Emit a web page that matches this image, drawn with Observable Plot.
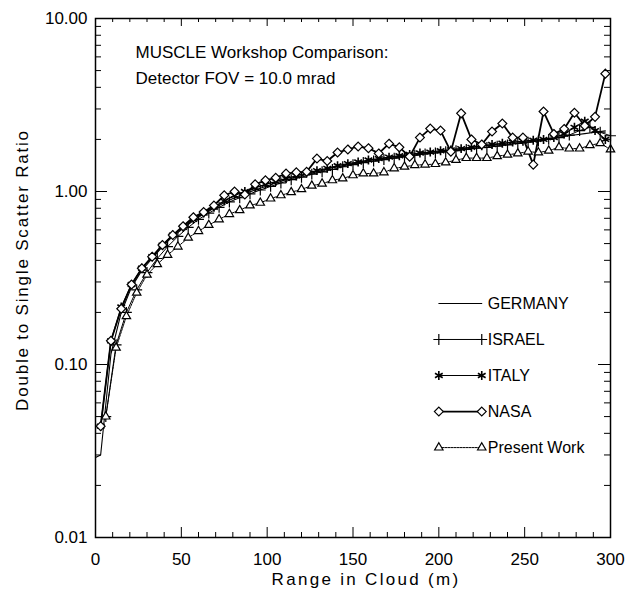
<!DOCTYPE html>
<html><head><meta charset="utf-8">
<script src="https://cdn.jsdelivr.net/npm/d3@7"></script>
<script src="https://cdn.jsdelivr.net/npm/@observablehq/plot@0.6"></script>
<style>
body{margin:0;background:#fff}
svg{display:block}
</style>
</head><body><div id="chart"></div>
<script>
// sample ranges (m)
const gridOdd = [3,9,15,21,27,33,39,45,51,57,63,69,75,81,87,93,99,105,111,117,123,129,135,141,147,153,159,165,171,177,183,189,195,201,207,213,219,225,231,237,243,249,255,261,267,273,279,285,291,297];
const gridEven = [6,12,18,24,30,36,42,48,54,60,66,72,78,84,90,96,102,108,114,120,126,132,138,144,150,156,162,168,174,180,186,192,198,204,210,216,222,228,234,240,246,252,258,264,270,276,282,288,294,300];
const germanyX = [0, ...gridOdd];

const germanyY = [0.029,0.030,0.115,0.20,0.28,0.35,0.41,0.48,0.55,0.61,0.68,0.74,0.80,0.86,0.92,0.97,1.02,1.07,1.12,1.17,1.21,1.26,1.30,1.35,1.39,1.43,1.47,1.51,1.54,1.57,1.60,1.63,1.66,1.69,1.72,1.74,1.77,1.80,1.83,1.86,1.89,1.92,1.95,1.98,2.01,2.04,2.08,2.12,2.16,2.20,2.24];
const israelY = [0.05,0.13,0.20,0.27,0.34,0.41,0.48,0.55,0.62,0.69,0.75,0.81,0.87,0.92,0.97,1.02,1.07,1.12,1.17,1.21,1.26,1.30,1.34,1.39,1.43,1.47,1.50,1.53,1.56,1.59,1.62,1.65,1.67,1.70,1.72,1.75,1.78,1.80,1.83,1.86,1.90,1.93,1.96,2.00,2.05,2.12,2.25,2.35,2.20,2.10];
const italyY = [0.044,0.137,0.215,0.29,0.36,0.42,0.49,0.56,0.62,0.69,0.75,0.81,0.88,0.95,1.00,1.05,1.10,1.14,1.19,1.23,1.28,1.32,1.36,1.41,1.45,1.48,1.52,1.55,1.58,1.61,1.64,1.67,1.69,1.72,1.74,1.77,1.80,1.84,1.87,1.90,1.93,1.95,1.98,2.00,2.05,2.15,2.35,2.55,2.25,2.00];
const nasaY = [0.044,0.137,0.21,0.29,0.36,0.42,0.49,0.56,0.63,0.71,0.76,0.83,0.95,1.00,0.96,1.10,1.16,1.20,1.27,1.29,1.30,1.55,1.50,1.68,1.75,1.82,1.78,1.66,1.89,1.80,1.59,2.05,2.31,2.25,1.70,2.83,2.00,1.87,2.22,2.47,2.05,2.05,1.43,2.90,2.15,2.30,2.85,2.40,2.70,4.80];
const presentY = [0.05,0.125,0.19,0.26,0.33,0.38,0.43,0.48,0.54,0.59,0.64,0.69,0.74,0.78,0.83,0.86,0.91,0.95,0.99,1.03,1.08,1.11,1.16,1.19,1.24,1.27,1.27,1.29,1.36,1.39,1.42,1.43,1.44,1.47,1.52,1.56,1.56,1.56,1.60,1.63,1.66,1.70,1.68,1.72,1.80,1.77,1.77,1.85,1.90,1.75];

const seriesNames = ["GERMANY","ISRAEL","ITALY","NASA","Present Work"];
const xTickLabels = [0,50,100,150,200,250,300];
const yTickLabels = [0.01,0.1,1,10];
const titleLines = ["MUSCLE Workshop Comparison:", "Detector FOV = 10.0 mrad"];
const xTitle = "Range in Cloud (m)";
const yTitle = "Double to Single Scatter Ratio";

const W = 629, H = 594, mL = 95, mR = 19, mT = 18, mB = 57;
const fw = W - mL - mR, fh = H - mT - mB;
const font = "Liberation Sans, Arial, sans-serif";

const xMinor = d3.range(0, 301, 10).filter(v => v % 50 !== 0);
const yMinor = [];
for (const dec of [0.01, 0.1, 1]) for (let k = 2; k <= 9; k++) yMinor.push(+(k*dec).toPrecision(3));

const pts = (xs, ys) => xs.map((x, i) => ({x, y: ys[i]}));
const germany = pts(germanyX, germanyY);
const israel = pts(gridEven, israelY);
const italy = pts(gridOdd, italyY);
const nasa = pts(gridOdd, nasaY);
const present = pts(gridEven, presentY);

const styles = [
  {data: germany, sw: 1.1, symbol: null, dash: null},
  {data: israel, sw: 1, symbol: "plus", dash: null},
  {data: italy, sw: 1.2, symbol: "asterisk", dash: null},
  {data: nasa, sw: 1.8, symbol: "diamond2", dash: null},
  {data: present, sw: 1, symbol: "triangle2", dash: "2,1"}
];

// legend rows laid out in data space (x from 200 to 225, log-spaced rows)
const legend = seriesNames.map((name, i) => ({name, i, y: 0.2254 * Math.pow(0.619, i)}));
const legendPts = legend.flatMap(d => [{...d, x: 200}, {...d, x: 225}]);

const marks = [];
styles.forEach((s, i) => {
  marks.push(Plot.line(s.data, {x: "x", y: "y", stroke: "black", strokeWidth: s.sw, strokeDasharray: s.dash}));
  const lp = legendPts.filter(d => d.i === i);
  marks.push(Plot.line(lp, {x: "x", y: "y", stroke: "black", strokeWidth: s.sw, strokeDasharray: s.dash}));
});
styles.forEach((s, i) => {
  if (!s.symbol) return;
  const lp = legendPts.filter(d => d.i === i);
  const opts = {x: "x", y: "y", symbol: () => s.symbol, r: s.symbol === "asterisk" ? 4.2 : (s.symbol === "plus" ? 3.6 : 4), stroke: "black", strokeWidth: s.symbol === "asterisk" ? 1.6 : 1.2, fill: "white"};
  marks.push(Plot.dot(s.data, opts));
  marks.push(Plot.dot(lp, opts));
});
marks.push(Plot.text(legend, {x: () => 225, y: "y", text: "name", dx: 6, textAnchor: "start", lineAnchor: "middle", fontSize: 16, fontFamily: font, fill: "black"}));

// frame & inward ticks
marks.push(
  Plot.frame({stroke: "black", strokeWidth: 1.5}),
  Plot.tickX(xTickLabels, {x: d => d, insetTop: fh - 10, stroke: "black"}),
  Plot.tickX(xMinor, {x: d => d, insetTop: fh - 5, stroke: "black"}),
  Plot.tickX(xTickLabels, {x: d => d, insetBottom: fh - 8, stroke: "black"}),
  Plot.tickX(xMinor, {x: d => d, insetBottom: fh - 4, stroke: "black"}),
  Plot.tickY(yTickLabels, {y: d => d, insetRight: fw - 12, stroke: "black"}),
  Plot.tickY(yMinor, {y: d => d, insetRight: fw - 6, stroke: "black"}),
  Plot.tickY(yTickLabels, {y: d => d, insetLeft: fw - 12, stroke: "black"}),
  Plot.tickY(yMinor, {y: d => d, insetLeft: fw - 6, stroke: "black"}),
  Plot.axisX({ticks: xTickLabels, tickSize: 0, tickPadding: 15, label: null, fontSize: 17, fontFamily: font, tickFormat: d => String(d)}),
  Plot.axisY({ticks: yTickLabels, tickSize: 0, tickPadding: 8, label: null, fontSize: 17, fontFamily: font, tickFormat: d => d.toFixed(2)}),
  Plot.text([xTitle], {frameAnchor: "bottom", textAnchor: "middle", lineAnchor: "middle", dx: 13, dy: 42.5, fontSize: 17, fontFamily: font, fill: "black"}),
  Plot.text([yTitle], {frameAnchor: "left", textAnchor: "middle", lineAnchor: "middle", rotate: -90, dx: -72.5, dy: -8, fontSize: 17, fontFamily: font, fill: "black"}),
  Plot.text([titleLines[0]], {frameAnchor: "top-left", lineAnchor: "middle", dx: 40, dy: 33.6, textAnchor: "start", fontSize: 17, fontFamily: font, fill: "black"}),
  Plot.text([titleLines[1]], {frameAnchor: "top-left", lineAnchor: "middle", dx: 40, dy: 59.6, textAnchor: "start", fontSize: 17, fontFamily: font, fill: "black"})
);

const chart = Plot.plot({
  width: W, height: H,
  marginLeft: mL, marginRight: mR, marginTop: mT, marginBottom: mB,
  style: {background: "white", color: "black", fontFamily: font},
  x: {domain: [0, 300]},
  y: {type: "log", domain: [0.01, 10]},
  marks
});
// wider letter spacing of the original plotting font for the axis titles
d3.select(chart).selectAll("text").each(function () {
  const t = this.textContent;
  if (t === xTitle) d3.select(this).style("letter-spacing", "2.3px");
  if (t === yTitle) d3.select(this).style("letter-spacing", "1.8px");
});
document.getElementById("chart").appendChild(chart);
</script>
</body></html>
